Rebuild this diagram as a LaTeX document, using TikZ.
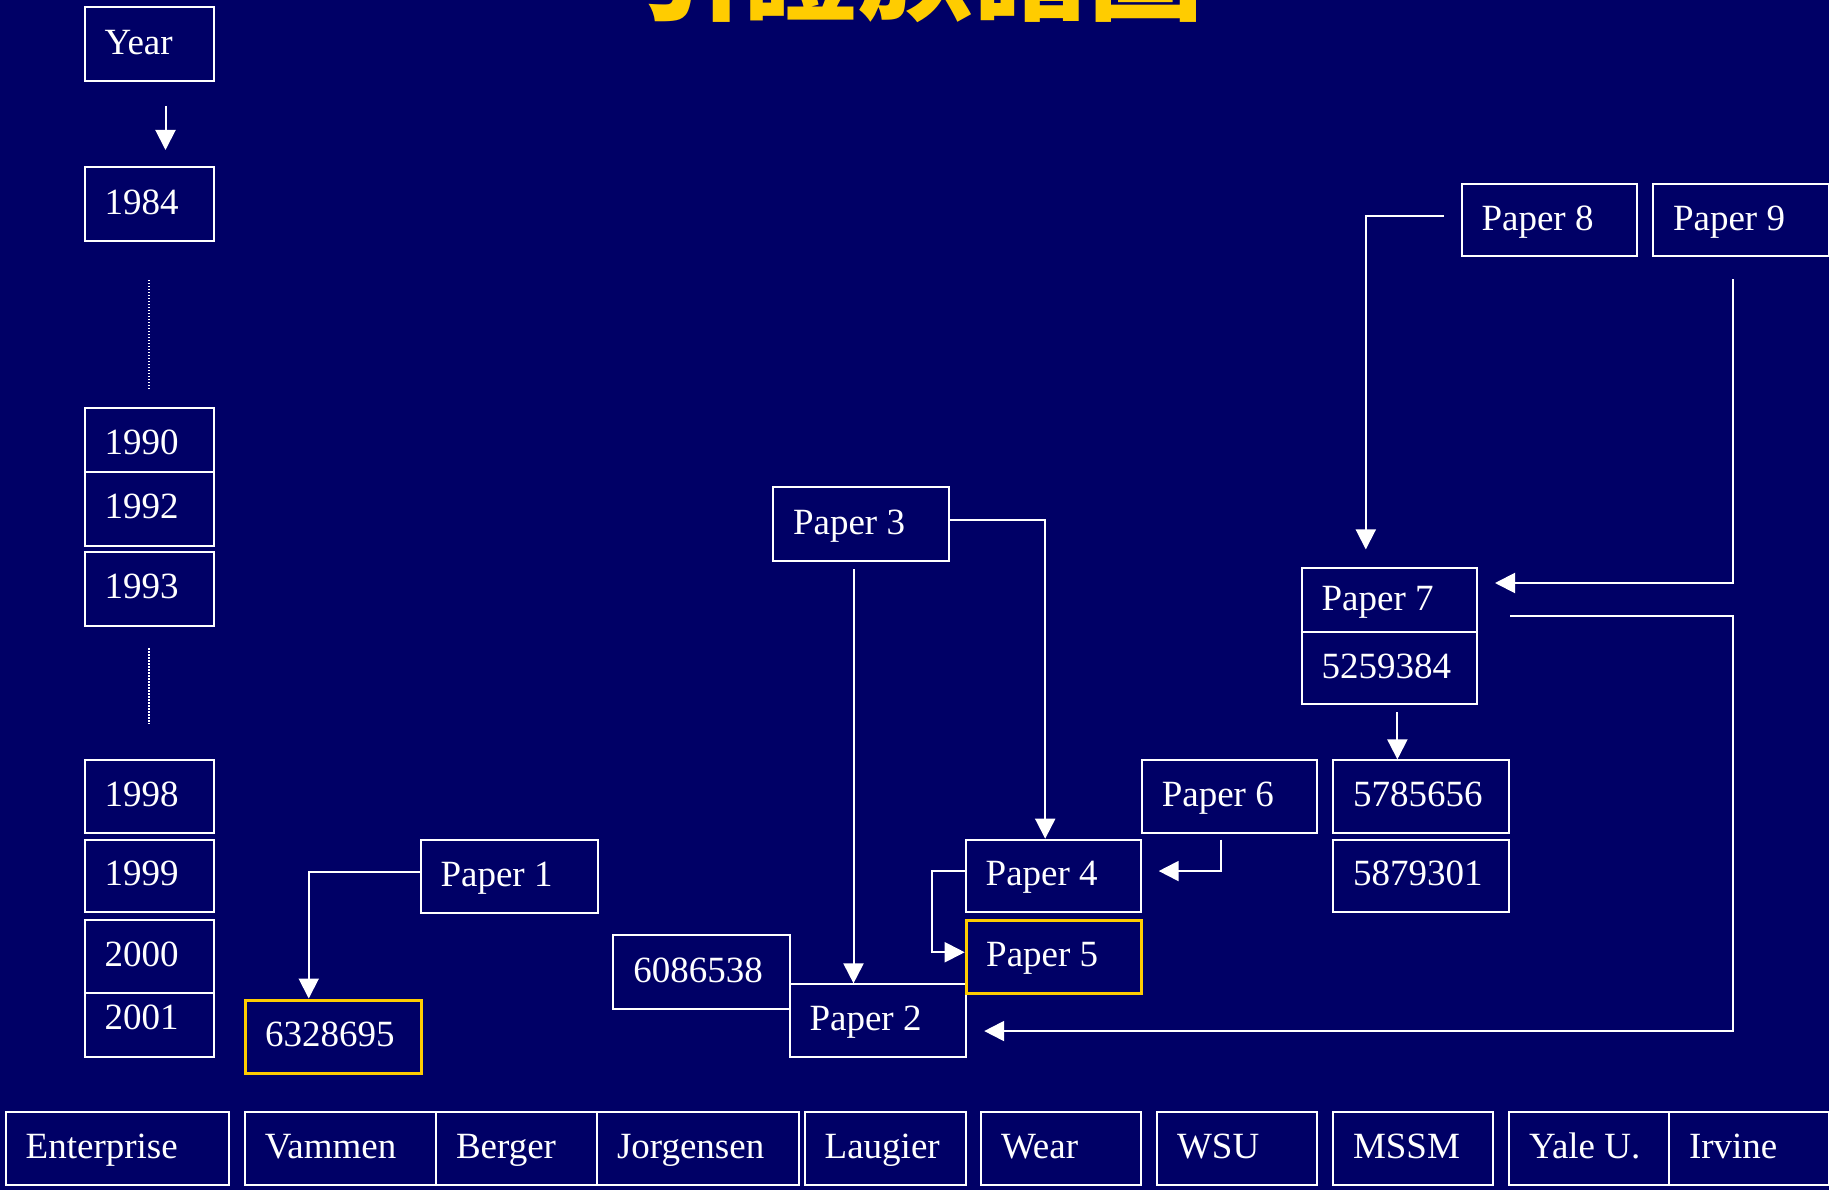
\documentclass[tikz,border=0pt]{standalone}
\usepackage{fontspec}
\setmainfont{Liberation Serif}
\newfontfamily\cjk{Noto Sans CJK TC}
\usetikzlibrary{arrows.meta}
\definecolor{bg}{RGB}{0,0,102}
\definecolor{gold}{RGB}{255,204,0}
\newdimen\bxtw
% style, name, x, y (top-left), width, height, text
\newcommand\bxnode[7]{%
  \bxtw=#5pt\advance\bxtw by -40pt
  \node[#1, minimum width=#5pt, minimum height=#6pt, text width=\bxtw] (#2) at (#3,#4) {#7};}
\begin{document}
\begin{tikzpicture}[x=1pt, y=-1pt,
  bx/.style={draw=white, line width=2pt, fill=bg, text=white, anchor=north west,
    inner xsep=20pt, inner ysep=0pt, align=flush left, text height=25pt, text depth=5pt,
    font=\fontsize{37}{44}\selectfont},
  gbx/.style={bx, draw=gold, line width=3pt},
  arr/.style={draw=white, line width=2pt, -{Triangle[length=20pt,width=20pt]}},
  dotln/.style={draw=white, line width=1.5pt, dash pattern=on 1.5pt off 1.5pt}]
\useasboundingbox (0,0) rectangle (1829,1190);
\fill[bg] (0,0) rectangle (1829,1190);
\clip (0,0) rectangle (1829,1190);

% title
\node[font=\cjk\bfseries\fontsize{115}{115}\selectfont, text=gold, anchor=base, inner sep=0pt]
  (title) at (916,12) {引證族譜圖};

% year column
\bxnode{bx}{year}{83.5}{6.5}{129}{74}{Year}
\bxnode{bx}{y1984}{83.5}{166}{129}{74.5}{1984}
\bxnode{bx}{y1990}{83.5}{406.5}{129}{74}{1990}
\bxnode{bx}{y1992}{83.5}{470.5}{129}{74}{1992}
\bxnode{bx}{y1993}{83.5}{550.5}{129}{74}{1993}
\bxnode{bx}{y1998}{83.5}{759}{129}{73}{1998}
\bxnode{bx}{y1999}{83.5}{838.5}{129}{72.5}{1999}
\bxnode{bx}{y2001}{83.5}{981.5}{129}{74}{2001}
\bxnode{bx}{y2000}{83.5}{919}{129}{72.5}{2000}

% papers and patents
\bxnode{bx}{p1}{419.5}{838.7}{177}{73}{Paper 1}
\bxnode{gbx}{c6328695}{243.5}{998.5}{176.5}{73}{6328695}
\bxnode{bx}{c6086538}{612.4}{934.4}{176.1}{73.4}{6086538}
\bxnode{bx}{p2}{788.5}{983.4}{176.2}{72.3}{Paper 2}
\bxnode{bx}{p3}{772}{486.4}{176.4}{73.6}{Paper 3}
\bxnode{bx}{p4}{964.7}{838.7}{175}{72.3}{Paper 4}
\bxnode{gbx}{p5}{964.7}{919.2}{175}{72.3}{Paper 5}
\bxnode{bx}{p6}{1140.8}{759.4}{175}{72.3}{Paper 6}
\bxnode{bx}{p7}{1300.6}{567}{175}{64}{Paper 7}
\bxnode{bx}{c5259384}{1300.6}{631}{175}{72.4}{5259384}
\bxnode{bx}{c5785656}{1332}{759.4}{176}{72.3}{5785656}
\bxnode{bx}{c5879301}{1332}{838.7}{176}{72.3}{5879301}
\bxnode{bx}{p8}{1460.5}{183}{175}{72.5}{Paper 8}
\bxnode{bx}{p9}{1652}{183}{176}{72.5}{Paper 9}

% bottom row
\bxnode{bx}{ent}{4.7}{1110.5}{222.8}{73.5}{Enterprise}
\bxnode{bx}{vam}{243.8}{1110.5}{191.2}{73.5}{Vammen}
\bxnode{bx}{ber}{435}{1110.5}{161}{73.5}{Berger}
\bxnode{bx}{jor}{596}{1110.5}{202}{73.5}{Jorgensen}
\bxnode{bx}{lau}{803.7}{1110.5}{161}{73.5}{Laugier}
\bxnode{bx}{wea}{980}{1110.5}{159.7}{73.5}{Wear}
\bxnode{bx}{wsu}{1156}{1110.5}{159.8}{73.5}{WSU}
\bxnode{bx}{mss}{1332}{1110.5}{160}{73.5}{MSSM}
\bxnode{bx}{yal}{1508}{1110.5}{160}{73.5}{Yale U.}
\bxnode{bx}{irv}{1668}{1110.5}{160}{73.5}{Irvine}

% year connectors
\coordinate (ky) at ([xshift=16.5pt]year.south);
\draw[arr, shorten <=23.5pt, shorten >=16pt] (ky) -- (ky |- y1984.north);
\draw[dotln, shorten <=37.3pt, shorten >=15.7pt] (y1984.south) -- (y1990.north);
\draw[dotln, shorten <=21.7pt, shorten >=35pt] (y1993.south) -- (y1998.north);

% citation connectors
\draw[arr] ([yshift=4.2pt]p1.west) -| ([xshift=-24.5pt]c6328695.north);
\coordinate (k3) at ([xshift=-7.7pt]p3.south);
\draw[arr, shorten <=7pt] (k3) -- (k3 |- p2.north);
\draw[arr] ([yshift=4pt]p3.east) -| ([xshift=-8pt]p4.north);
\draw[arr] ([yshift=4.8pt]p4.west) -- ++(-32.7pt,0) |- ([yshift=4.6pt]p5.west);
\draw[arr, shorten <=6pt, shorten >=17pt] ([xshift=-8pt]p6.south) |- ([yshift=4.8pt]p4.east);
\draw[arr, shorten <=16.5pt, shorten >=17.6pt] ([yshift=4.6pt]p8.west) -| ([xshift=-23.3pt]p7.north);
\coordinate (k9) at ([xshift=-7.7pt]p9.south);
\draw[arr, shorten <=22pt, shorten >=17.4pt] (k9) |- ([yshift=17pt]p7.east);
\coordinate (ka) at ([yshift=-15.7pt]p7.east);
\coordinate (kb) at ([yshift=-10.5pt]p2.east);
\draw[arr, shorten <=32.4pt, shorten >=17.5pt] (ka) -| (k9 |- kb) -- (kb);
\coordinate (k52) at ([xshift=8.3pt]c5259384.south);
\draw[arr, shorten <=7pt] (k52) -- (k52 |- c5785656.north);
\end{tikzpicture}
\end{document}
